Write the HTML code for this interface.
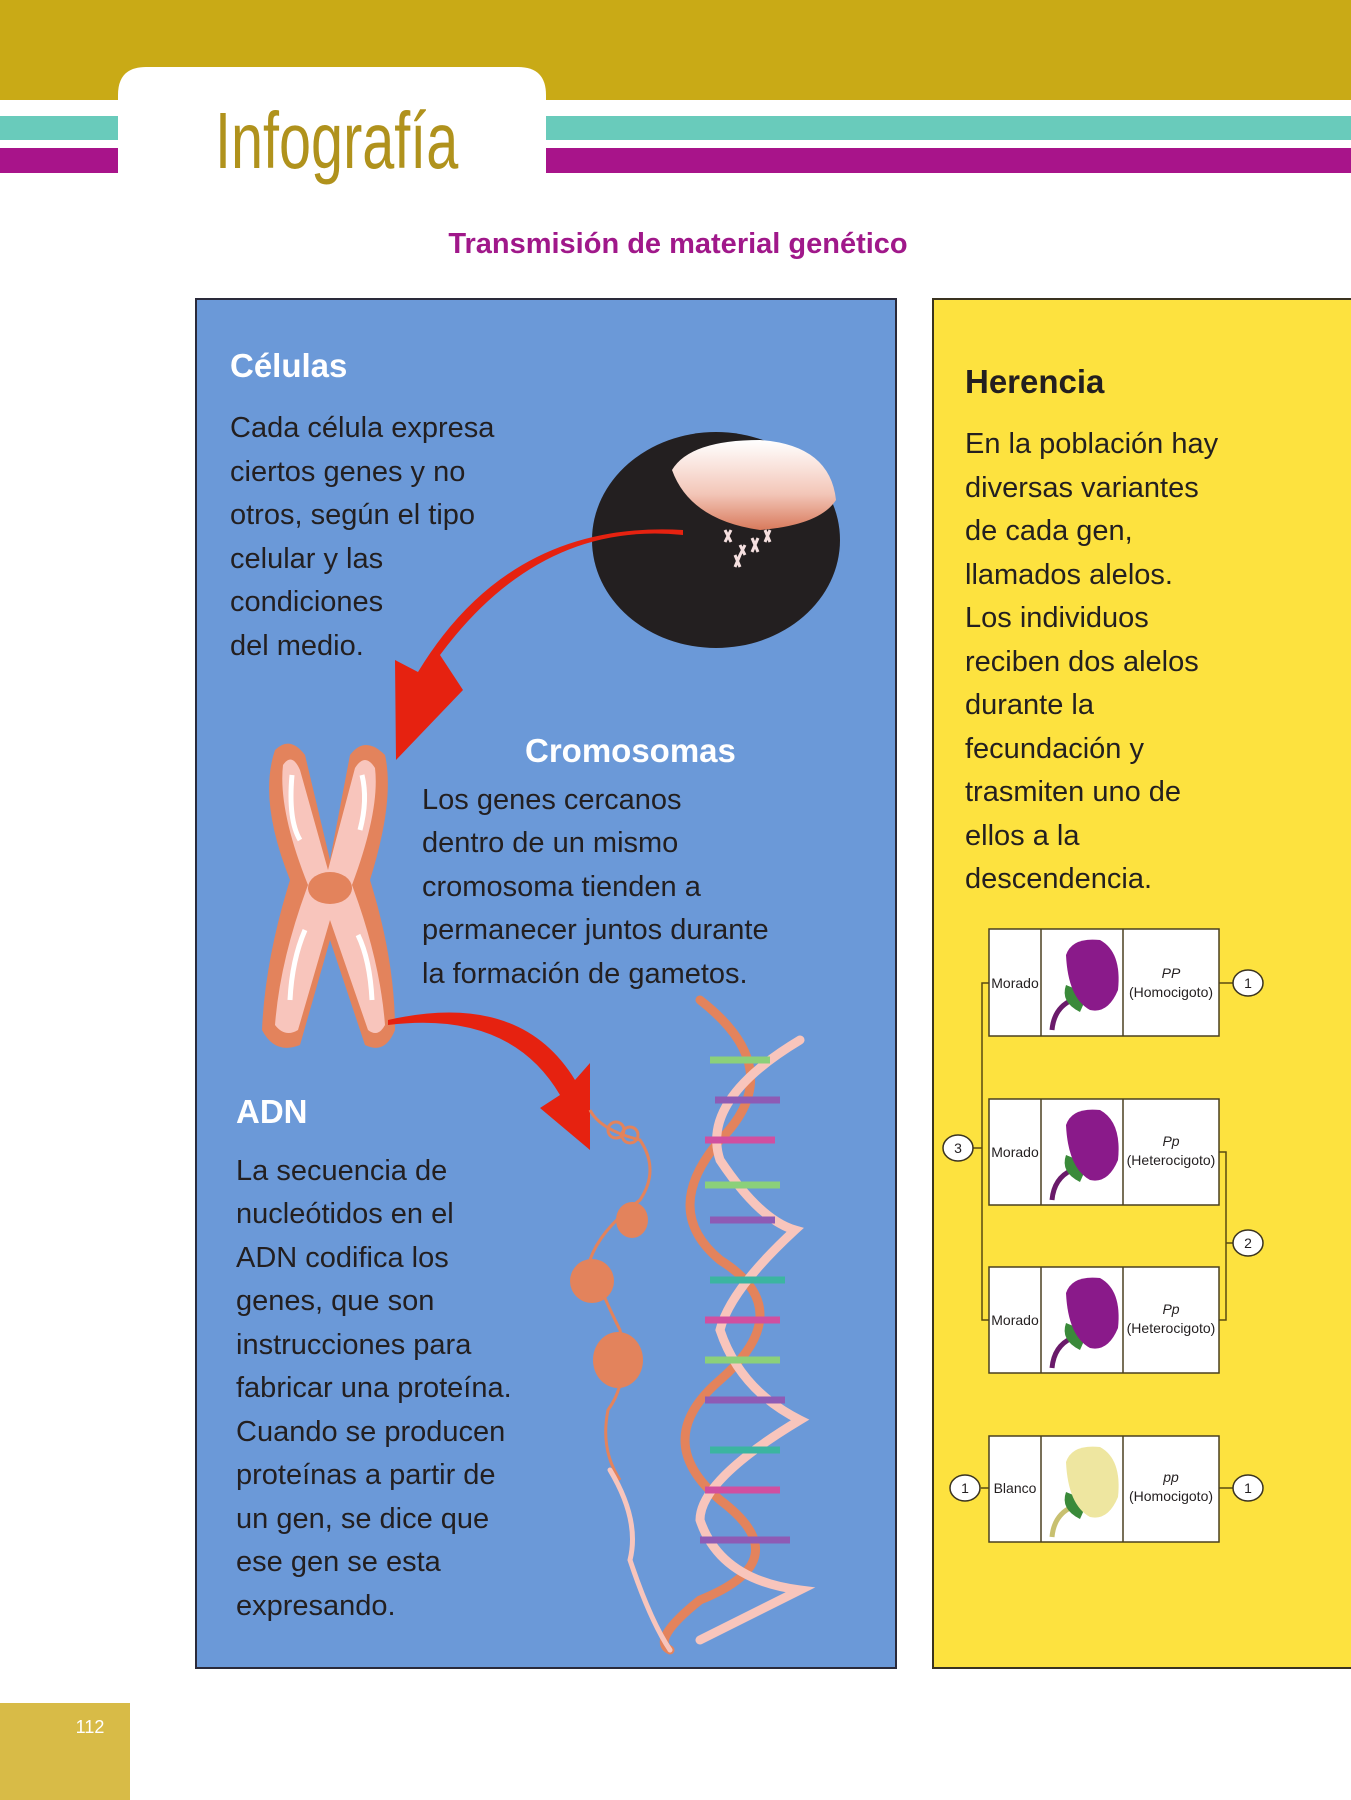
<!DOCTYPE html>
<html><head><meta charset="utf-8"><style>
html,body{margin:0;padding:0;background:#fff;}
svg{display:block;}
text{font-family:"Liberation Sans",sans-serif;}
</style></head><body>
<svg width="1351" height="1800" viewBox="0 0 1351 1800" xmlns="http://www.w3.org/2000/svg">
<rect x="0" y="0" width="1351" height="100" fill="#c9aa16"/>
<rect x="0" y="116" width="1351" height="24" fill="#69cbbb"/>
<rect x="0" y="148" width="1351" height="25" fill="#a8148a"/>
<path d="M118 180 L118 95 Q118 67 146 67 L518 67 Q546 67 546 95 L546 180 Z" fill="#fff"/>
<text x="215" y="168" font-size="80" fill="#b0921c" transform="translate(215 0) scale(0.72 1) translate(-215 0)">Infografía</text>
<text x="678" y="253" font-size="29" font-weight="bold" fill="#a0188a" text-anchor="middle">Transmisión de material genético</text>

<rect x="196" y="299" width="700" height="1369" fill="#6b99d8" stroke="#2a2a3a" stroke-width="2"/>
<rect x="933" y="299" width="430" height="1369" fill="#fde23f" stroke="#3a3320" stroke-width="2"/>

<ellipse cx="716" cy="540" rx="124" ry="108" fill="#231f20"/>
<defs><linearGradient id="nuc" x1="0" y1="0" x2="0" y2="1"><stop offset="0" stop-color="#fff"/><stop offset="0.6" stop-color="#f3c6b8"/><stop offset="1" stop-color="#d87a5c"/></linearGradient></defs>
<path d="M672 470 Q690 440 760 440 Q830 445 836 500 Q820 525 760 530 Q690 520 672 470 Z" fill="url(#nuc)"/>
<g stroke="#f5e0e0" stroke-width="3"><path d="M725 530 l6 12 M731 530 l-6 12 M740 545 l5 10 M745 545 l-5 10 M752 538 l6 14 M758 538 l-6 14 M765 530 l5 12 M770 530 l-5 12 M735 555 l5 12 M740 555 l-5 12"/></g>
<path d="M683 535 Q540 520 440 655 L463 690 L396 760 L395 660 L418 672 Q510 520 683 530 Z" fill="#e62210"/>
<g>
<path d="M275 750 Q290 735 305 755 L330 860 L350 755 Q365 735 385 755 Q395 800 370 880 Q395 960 395 1030 Q385 1055 365 1045 L330 940 L300 1045 Q275 1055 262 1030 Q265 960 290 880 Q258 800 275 750 Z" fill="#e3835c"/>
<path d="M283 765 Q292 752 300 770 L328 870 L355 768 Q365 752 375 768 Q380 810 352 885 Q380 960 385 1025 Q378 1038 368 1030 L330 920 L298 1030 Q285 1038 275 1025 Q280 960 308 885 Q278 810 283 765 Z" fill="#f8c5bc"/>
<ellipse cx="330" cy="888" rx="22" ry="16" fill="#e3835c"/>
<path d="M292 775 Q288 820 300 840" stroke="#fff" stroke-width="5" fill="none"/>
<path d="M362 775 Q368 800 360 830" stroke="#fff" stroke-width="5" fill="none"/>
<path d="M290 1000 Q292 960 305 930" stroke="#fff" stroke-width="5" fill="none"/>
<path d="M372 1000 Q370 960 358 935" stroke="#fff" stroke-width="5" fill="none"/>
</g>
<path d="M388 1020 Q520 990 575 1080 L590 1063 L590 1150 L540 1108 L560 1095 Q510 1010 388 1025 Z" fill="#e62210"/>
<g fill="none" stroke="#e3835c" stroke-width="3">
<path d="M590 1110 Q600 1130 640 1140 Q660 1170 640 1200 Q600 1230 590 1260 Q600 1290 620 1330 Q630 1380 608 1410 Q600 1450 620 1480"/>
<circle cx="616" cy="1130" r="8"/><circle cx="630" cy="1135" r="8"/>
</g>
<g fill="#e3835c"><ellipse cx="632" cy="1220" rx="16" ry="18"/><ellipse cx="592" cy="1281" rx="22" ry="22"/><ellipse cx="618" cy="1360" rx="25" ry="28"/></g>
<g fill="none" stroke-linecap="round">
<path d="M700 1000 Q790 1070 720 1140 Q660 1210 720 1260 Q800 1310 720 1380 Q650 1440 720 1500 Q800 1560 700 1600 Q650 1640 670 1650" stroke="#e3835c" stroke-width="9"/>
<path d="M800 1040 Q700 1100 720 1160 Q760 1220 795 1230 Q730 1290 720 1330 Q740 1390 800 1420 Q700 1480 700 1520 Q720 1580 800 1590 Q740 1620 700 1640" stroke="#f8c5bc" stroke-width="9"/>
<path d="M610 1470 Q640 1520 630 1560 Q650 1620 670 1650" stroke="#f8c5bc" stroke-width="5"/>
</g>
<g stroke-width="7">
<line x1="710" y1="1060" x2="770" y2="1060" stroke="#8bd07a"/><line x1="715" y1="1100" x2="780" y2="1100" stroke="#8e5bb5"/>
<line x1="705" y1="1140" x2="775" y2="1140" stroke="#d04fa0"/><line x1="705" y1="1185" x2="780" y2="1185" stroke="#8bd07a"/>
<line x1="710" y1="1220" x2="775" y2="1220" stroke="#8e5bb5"/><line x1="710" y1="1280" x2="785" y2="1280" stroke="#3bb5a0"/>
<line x1="705" y1="1320" x2="780" y2="1320" stroke="#d04fa0"/><line x1="705" y1="1360" x2="780" y2="1360" stroke="#8bd07a"/>
<line x1="705" y1="1400" x2="785" y2="1400" stroke="#8e5bb5"/><line x1="710" y1="1450" x2="780" y2="1450" stroke="#3bb5a0"/>
<line x1="705" y1="1490" x2="780" y2="1490" stroke="#d04fa0"/><line x1="700" y1="1540" x2="790" y2="1540" stroke="#8e5bb5"/>
</g>

<g fill="#fff" font-weight="bold" font-size="33">
<text x="230" y="377">Células</text>
<text x="525" y="762">Cromosomas</text>
<text x="236" y="1123">ADN</text>
</g>
<g fill="#231f20" font-size="29">
<text x="230" y="437">Cada célula expresa</text>
<text x="230" y="481">ciertos genes y no</text>
<text x="230" y="524">otros, según el tipo</text>
<text x="230" y="568">celular y las</text>
<text x="230" y="611">condiciones</text>
<text x="230" y="655">del medio.</text>
<text x="422" y="809">Los genes cercanos</text>
<text x="422" y="852">dentro de un mismo</text>
<text x="422" y="896">cromosoma tienden a</text>
<text x="422" y="939">permanecer juntos durante</text>
<text x="422" y="983">la formación de gametos.</text>
<text x="236" y="1180">La secuencia de</text>
<text x="236" y="1223">nucleótidos en el</text>
<text x="236" y="1267">ADN codifica los</text>
<text x="236" y="1310">genes, que son</text>
<text x="236" y="1354">instrucciones para</text>
<text x="236" y="1397">fabricar una proteína.</text>
<text x="236" y="1441">Cuando se producen</text>
<text x="236" y="1484">proteínas a partir de</text>
<text x="236" y="1528">un gen, se dice que</text>
<text x="236" y="1571">ese gen se esta</text>
<text x="236" y="1615">expresando.</text>
</g>
<text x="965" y="393" font-size="33" font-weight="bold" fill="#231f20">Herencia</text>
<g fill="#231f20" font-size="29">
<text x="965" y="453">En la población hay</text>
<text x="965" y="497">diversas variantes</text>
<text x="965" y="540">de cada gen,</text>
<text x="965" y="584">llamados alelos.</text>
<text x="965" y="627">Los individuos</text>
<text x="965" y="671">reciben dos alelos</text>
<text x="965" y="714">durante la</text>
<text x="965" y="758">fecundación y</text>
<text x="965" y="801">trasmiten uno de</text>
<text x="965" y="845">ellos a la</text>
<text x="965" y="888">descendencia.</text>
</g>

<g stroke="#5a4a10" stroke-width="1.5" fill="none">
<path d="M989 983 L982 983 L982 1320 L989 1320 M982 1148 L973 1148"/>
<path d="M1219 1152 L1226 1152 L1226 1320 L1219 1320 M1226 1243 L1233 1243"/>
<path d="M1219 983 L1233 983"/>
<path d="M981 1488 L989 1488 M1219 1488 L1233 1488"/>
</g>
<g fill="#fff" stroke="#3a3320" stroke-width="1.5">
<ellipse cx="1248" cy="983" rx="15" ry="13"/>
<ellipse cx="1248" cy="1243" rx="15" ry="13"/>
<ellipse cx="958" cy="1148" rx="15" ry="13"/>
<ellipse cx="965" cy="1488" rx="15" ry="13"/>
<ellipse cx="1248" cy="1488" rx="15" ry="13"/>
</g>
<g font-size="14" fill="#231f20" text-anchor="middle">
<text x="1248" y="988">1</text><text x="1248" y="1248">2</text><text x="958" y="1153">3</text>
<text x="965" y="1493">1</text><text x="1248" y="1493">1</text>
</g>

<g fill="#fff" stroke="#4a4020" stroke-width="1.5">
<rect x="989" y="929" width="230" height="107"/><line x1="1041" y1="929" x2="1041" y2="1036"/><line x1="1123" y1="929" x2="1123" y2="1036"/>
<rect x="989" y="1099" width="230" height="106"/><line x1="1041" y1="1099" x2="1041" y2="1205"/><line x1="1123" y1="1099" x2="1123" y2="1205"/>
<rect x="989" y="1267" width="230" height="106"/><line x1="1041" y1="1267" x2="1041" y2="1373"/><line x1="1123" y1="1267" x2="1123" y2="1373"/>
<rect x="989" y="1436" width="230" height="106"/><line x1="1041" y1="1436" x2="1041" y2="1542"/><line x1="1123" y1="1436" x2="1123" y2="1542"/>
</g>
<defs>
<g id="fl"><path d="M1052 1030 Q1054 1008 1072 1000" stroke="currentColor" stroke-width="5" fill="none"/><path d="M1066 985 Q1060 1002 1080 1012 L1088 994 Z" fill="#3a8a3a"/><path d="M1066 955 Q1072 937 1100 940 Q1122 952 1118 990 Q1108 1014 1090 1010 Q1068 998 1066 955 Z"/></g>
</defs>
<use href="#fl" fill="#8a1a8a" color="#6a1a6a"/>
<use href="#fl" y="170" fill="#8a1a8a" color="#6a1a6a"/>
<use href="#fl" y="338" fill="#8a1a8a" color="#6a1a6a"/>
<use href="#fl" y="507" fill="#eee6a0" color="#c8c070"/>
<g font-size="14" fill="#231f20" text-anchor="middle">
<text x="1015" y="988">Morado</text><text x="1015" y="1157">Morado</text><text x="1015" y="1325">Morado</text><text x="1015" y="1493">Blanco</text>
<text x="1171" y="978" font-style="italic">PP</text><text x="1171" y="997">(Homocigoto)</text>
<text x="1171" y="1146" font-style="italic">Pp</text><text x="1171" y="1165">(Heterocigoto)</text>
<text x="1171" y="1314" font-style="italic">Pp</text><text x="1171" y="1333">(Heterocigoto)</text>
<text x="1171" y="1482" font-style="italic">pp</text><text x="1171" y="1501">(Homocigoto)</text>
</g>

<rect x="0" y="1703" width="130" height="97" fill="#d8bb47"/>
<text x="90" y="1733" font-size="18" fill="#fff" text-anchor="middle">112</text>
</svg>
</body></html>
